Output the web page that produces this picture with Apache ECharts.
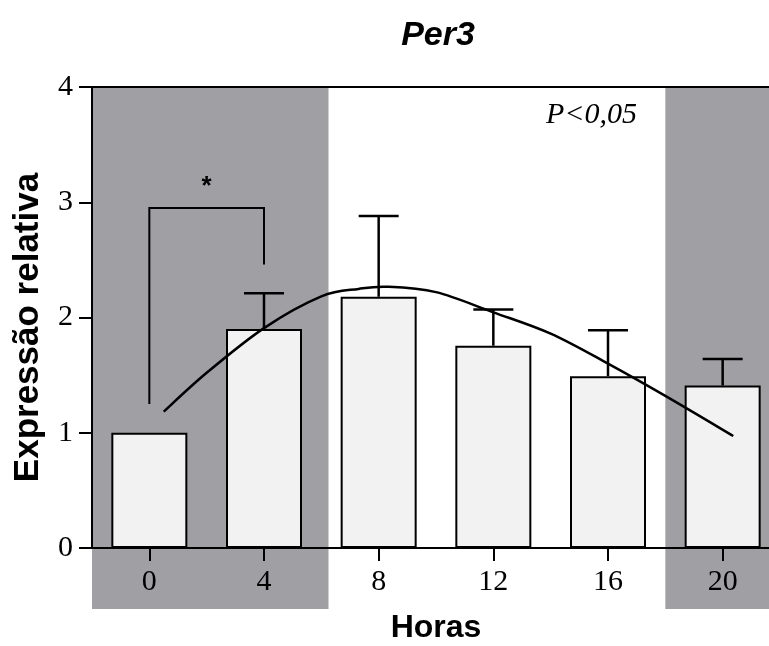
<!DOCTYPE html>
<html>
<head>
<meta charset="utf-8">
<script src="https://cdn.jsdelivr.net/npm/echarts@6/dist/echarts.min.js"></script>
<style>
html,body{margin:0;padding:0;background:#fff;}
#chart{width:769px;height:646px;}
</style>
</head>
<body>
<div id="chart"></div>
<script>
// ---- data ----
var categories = ['0', '4', '8', '12', '16', '20'];
var barValues = [1.00, 1.90, 2.18, 1.755, 1.49, 1.41];
var errorUpper = [1.00, 2.21, 2.88, 2.07, 1.89, 1.64];
var yTicks = [0, 1, 2, 3, 4];
// fitted curve: hours, relative expression
var curveHours = [0.5, 2.0, 4.0, 6.0, 7.3, 8.3, 10.0, 12.0, 14.0, 16.0, 18.0, 20.37];
var curveValues = [1.183, 1.52, 1.908, 2.183, 2.248, 2.267, 2.22, 2.045, 1.86, 1.60, 1.32, 0.972];
// dark (lights off) periods in hours
var darkStart = [-2, 18];
var darkEnd = [6.25, 22];
// significance bracket between categories '0' and '4'
var bracketCats = ['0', '4'];
var bracketLevels = [1.25, 2.95, 2.46];
var bracketMark = '*';
var pText = 'P<0,05';

var chart = echarts.init(document.getElementById('chart'), null, {renderer: 'canvas'});

var serif = 'Liberation Serif';
var sans = 'Liberation Sans';

var option = {
  animation: false,
  backgroundColor: '#ffffff',
  title: {
    text: 'Per3',
    left: 433,
    top: 14,
    textAlign: 'center',
    textStyle: {fontFamily: sans, fontWeight: 'bold', fontStyle: 'italic', fontSize: 34, color: '#000'}
  },
  grid: {left: 92, right: -11, top: 87, bottom: 98, containLabel: false, outerBoundsMode: 'none'},
  xAxis: [{
    type: 'category',
    data: categories,
    z: 3,
    boundaryGap: true,
    name: 'Horas',
    nameLocation: 'middle',
    nameGap: 64,
    nameTextStyle: {fontFamily: sans, fontWeight: 'bold', fontSize: 32, color: '#000'},
    axisLine: {show: true, onZero: false, lineStyle: {color: '#000', width: 2}},
    axisTick: {show: true, alignWithLabel: true, length: 13, lineStyle: {color: '#000', width: 2}},
    axisLabel: {fontFamily: serif, fontSize: 30, color: '#000', margin: 19},
    splitLine: {show: false}
  }, {
    type: 'value',
    min: -2,
    max: 22,
    position: 'top',
    z: 3,
    axisLine: {show: true, onZero: false, lineStyle: {color: '#000', width: 2}},
    axisTick: {show: false},
    axisLabel: {show: false},
    splitLine: {show: false}
  }],
  yAxis: {
    type: 'value',
    min: 0,
    max: 4,
    interval: 1,
    z: 3,
    name: 'Expressão relativa',
    nameLocation: 'middle',
    nameGap: 46,
    nameRotate: 90,
    nameTextStyle: {fontFamily: sans, fontWeight: 'bold', fontSize: 35, color: '#000', padding: [0, 20, 0, 0]},
    axisLine: {show: true, onZero: false, lineStyle: {color: '#000', width: 2}},
    axisTick: {show: true, length: 13, lineStyle: {color: '#000', width: 2}},
    axisLabel: {fontFamily: serif, fontSize: 30, color: '#000', margin: 19},
    splitLine: {show: false}
  },
  graphic: [{
    type: 'text',
    left: 546,
    top: 100,
    z: 10,
    style: {text: pText, font: 'italic 30px "Liberation Serif"', fill: '#000'}
  }],
  series: [
    {
      type: 'custom',
      name: 'dark',
      xAxisIndex: 1,
      z: 1,
      clip: false,
      silent: true,
      data: darkStart.map(function (s, i) { return [s, darkEnd[i]]; }),
      renderItem: function (params, api) {
        var p0 = api.coord([api.value(0), 4]);
        var p1 = api.coord([api.value(1), 0]);
        return {
          type: 'rect',
          shape: {x: p0[0], y: p0[1], width: p1[0] - p0[0], height: p1[1] - p0[1] + 61},
          style: {fill: '#a09fa4'}
        };
      }
    },
    {
      type: 'bar',
      name: 'Per3',
      xAxisIndex: 0,
      z: 2,
      barWidth: 76,
      data: barValues,
      itemStyle: {color: '#f2f2f2', borderColor: '#000', borderWidth: 2}
    },
    {
      type: 'custom',
      name: 'sem',
      xAxisIndex: 0,
      z: 2,
      clip: false,
      data: categories.map(function (c, i) { return [i, barValues[i], errorUpper[i]]; }),
      renderItem: function (params, api) {
        if (api.value(2) <= api.value(1)) { return null; }
        var b = api.coord([api.value(0), api.value(1)]);
        var t = api.coord([api.value(0), api.value(2)]);
        var st = {stroke: '#000', lineWidth: 2.5};
        return {
          type: 'group',
          children: [
            {type: 'line', shape: {x1: b[0], y1: b[1], x2: t[0], y2: t[1]}, style: st},
            {type: 'line', shape: {x1: t[0] - 20, y1: t[1], x2: t[0] + 20, y2: t[1]}, style: st}
          ]
        };
      }
    },
    {
      type: 'custom',
      name: 'fit',
      xAxisIndex: 1,
      z: 4,
      clip: false,
      data: [[curveHours[0], curveValues[0]]],
      renderItem: function (params, api) {
        var pts = curveHours.map(function (h, i) { return api.coord([h, curveValues[i]]); });
        var n = pts.length;
        var d = 'M' + pts[0][0] + ' ' + pts[0][1];
        for (var i = 0; i < n - 1; i++) {
          var p0 = pts[Math.max(i - 1, 0)], p1 = pts[i], p2 = pts[i + 1], p3 = pts[Math.min(i + 2, n - 1)];
          var c1x = p1[0] + (p2[0] - p0[0]) / 6, c1y = p1[1] + (p2[1] - p0[1]) / 6;
          var c2x = p2[0] - (p3[0] - p1[0]) / 6, c2y = p2[1] - (p3[1] - p1[1]) / 6;
          d += ' C' + c1x + ' ' + c1y + ' ' + c2x + ' ' + c2y + ' ' + p2[0] + ' ' + p2[1];
        }
        return {
          type: 'path',
          shape: {pathData: d},
          style: {stroke: '#000', lineWidth: 2.5, fill: null}
        };
      }
    },
    {
      type: 'custom',
      name: 'bracket',
      xAxisIndex: 0,
      z: 4,
      clip: false,
      data: [[bracketCats[0], bracketCats[1]]],
      renderItem: function (params, api) {
        var a = api.coord([bracketCats[0], bracketLevels[0]]);
        var at = api.coord([bracketCats[0], bracketLevels[1]]);
        var bt = api.coord([bracketCats[1], bracketLevels[1]]);
        var b = api.coord([bracketCats[1], bracketLevels[2]]);
        return {
          type: 'group',
          children: [
            {type: 'polyline', shape: {points: [a, at, bt, b]}, style: {stroke: '#000', lineWidth: 2, fill: null}},
            {type: 'text', x: (at[0] + bt[0]) / 2, y: at[1] - 21,
             style: {text: bracketMark, font: 'bold 26px "Liberation Sans"', fill: '#000', align: 'center', verticalAlign: 'middle'}}
          ]
        };
      }
    }
  ]
};
chart.setOption(option);
</script>
</body>
</html>
